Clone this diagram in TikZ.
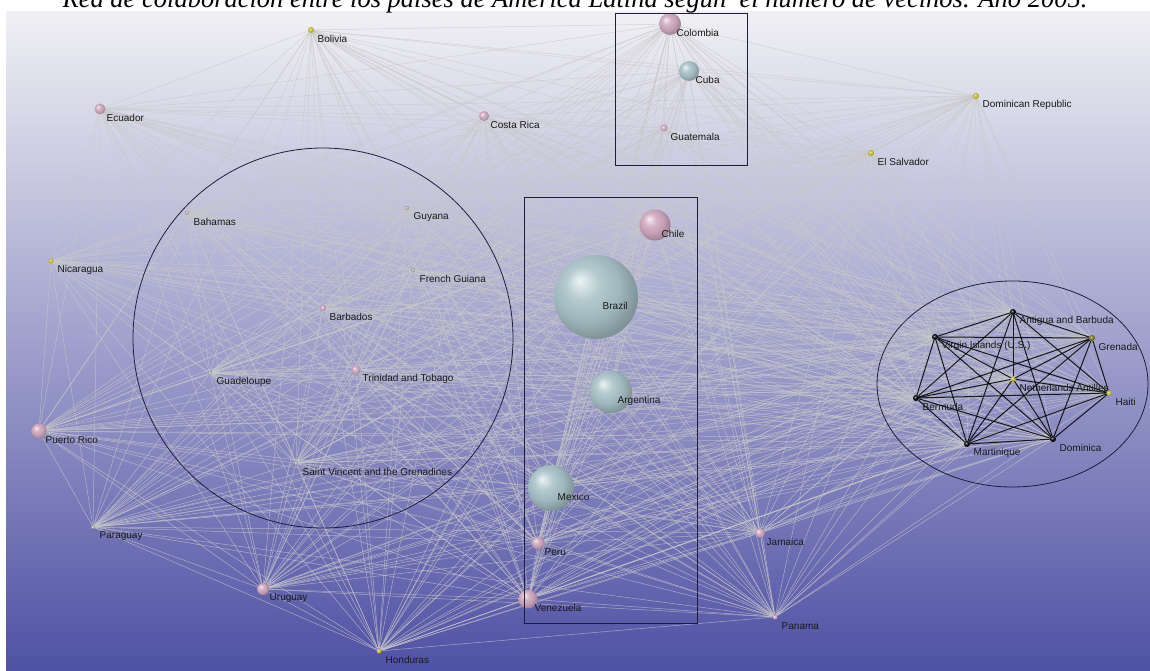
\documentclass[tikz,border=0pt]{standalone}
\usepackage{fontspec}
\setmainfont{Liberation Sans}
\newfontfamily\titlefont{Liberation Serif}
\usetikzlibrary{backgrounds}
\definecolor{pinkball}{HTML}{CDA6BD}
\definecolor{tealball}{HTML}{A6C0C6}
\definecolor{yellowball}{HTML}{C6BC26}
\definecolor{greyball}{HTML}{B0ADA8}
\definecolor{boxline}{HTML}{1E1E3C}
\definecolor{bgtop}{HTML}{F0F0F4}
\definecolor{bgmid}{HTML}{A6A6D6}
\definecolor{bgbot}{HTML}{4F51A4}
\makeatletter
\pgfdeclareradialshading[tikz@ball]{sphere}{\pgfqpoint{-10bp}{10bp}}{%
  color(0bp)=(tikz@ball!20!white); color(10bp)=(tikz@ball!85!white);
  color(20bp)=(tikz@ball!95!black); color(30bp)=(tikz@ball!75!black); color(50bp)=(tikz@ball!55!black)}
\makeatother
\tikzset{ball/.style = {circle,inner sep=0pt,draw=none},
         lab/.style = {anchor=west,inner sep=0pt,text=black!90,font=\fontsize{10}{12}\selectfont},
         web/.style = {draw=gray!42,opacity=0.7,line width=0.5pt},
         tie/.style = {draw=black,opacity=0.85,line width=1pt},
         group/.style = {draw=boxline,line width=0.8pt}}
% id, x, y, diameter, colour, name
\newcommand\country[6]{%
  \node[ball,ball color=#5,shading=sphere,minimum size=#4pt] (#1) at (#2,#3) {};
  \node[lab] (#1-lab) at (#2+6.5,#3+9) {#6};}
\newcommand\mainland{bol,ecu,cri,col,cub,gtm,dom,slv,bhs,guy,guf,brb,glp,tto,vct,nic,pri,pry,ury,hnd,ven,per,mex,arg,bra,chl,jam,pan}
\newcommand\islands{atg,vir,grd,ant,hti,bmu,mtq,dma}

\begin{document}
\begin{tikzpicture}[x=1pt,y=-1pt]
    \useasboundingbox (0,0) rectangle (1150,671);
    \clip (0,0) rectangle (1150,671);
    \node[anchor=base,inner sep=0pt,font=\titlefont\itshape\fontsize{26.5}{28}\selectfont] (title) at (575,8)
        {Red de colaboración entre los países de América Latina según\ \ el número de vecinos. Año 2005.};
    % countries
    \country{bol}{311}{30}{6}{yellowball}{Bolivia}
    \country{ecu}{100}{109}{11}{pinkball}{Ecuador}
    \country{cri}{484}{116}{10}{pinkball}{Costa Rica}
    \country{col}{670}{24}{22}{pinkball}{Colombia}
    \country{cub}{689}{71}{20}{tealball}{Cuba}
    \country{gtm}{664}{128}{7}{pinkball}{Guatemala}
    \country{dom}{976}{96}{6}{yellowball}{Dominican Republic}
    \country{slv}{871}{153}{6}{yellowball}{El Salvador}
    \country{bhs}{187}{213}{4}{greyball}{Bahamas}
    \country{guy}{407}{208}{4}{greyball}{Guyana}
    \country{guf}{413}{270}{4}{greyball}{French Guiana}
    \country{brb}{323}{308}{6}{pinkball}{Barbados}
    \country{glp}{210}{373}{4}{greyball}{Guadeloupe}
    \country{tto}{356}{370}{9}{pinkball}{Trinidad and Tobago}
    \country{vct}{296}{463}{4}{greyball}{Saint Vincent and the Grenadines}
    \country{nic}{51}{261}{5}{yellowball}{Nicaragua}
    \country{pri}{39}{431}{15}{pinkball}{Puerto Rico}
    \country{pry}{93}{527}{4}{greyball}{Paraguay}
    \country{ury}{263}{589}{12}{pinkball}{Uruguay}
    \country{hnd}{379}{651}{5}{yellowball}{Honduras}
    \country{ven}{528}{599}{19}{pinkball}{Venezuela}
    \country{per}{538}{543}{13}{pinkball}{Peru}
    \country{mex}{551}{488}{46}{tealball}{Mexico}
    \country{arg}{611}{392}{42}{tealball}{Argentina}
    \country{bra}{596}{297}{84}{tealball}{Brazil}
    \country{chl}{655}{225}{31}{pinkball}{Chile}
    \country{jam}{760}{533}{10}{pinkball}{Jamaica}
    \country{pan}{775}{617}{5}{pinkball}{Panama}
    % island clique
    \country{atg}{1013}{312}{6}{black}{Antigua and Barbuda}
    \country{vir}{935}{337}{6}{black}{Virgin Islands (U.S.)}
    \country{grd}{1092}{338}{6}{yellowball!60!black}{Grenada}
    \country{ant}{1013}{379}{5}{yellowball}{Netherlands Antilles}
    \country{hti}{1109}{393}{5}{yellowball}{Haiti}
    \country{bmu}{916}{398}{6}{black}{Bermuda}
    \country{mtq}{967}{444}{6}{black}{Martinique}
    \country{dma}{1053}{439}{6}{black}{Dominica}
    % groups
    \draw[group] (615,13) rectangle (747,165);
    \draw[group] (524,197) rectangle (697,623);
    \draw[group] (323,338) circle[radius=190];
    \draw[group] (1012.5,384) ellipse[x radius=135.5,y radius=103];
    \begin{pgfonlayer}{background}
        \shade[top color=bgtop,middle color=bgmid,bottom color=bgbot] (6,12) rectangle (1150,671);
        \foreach \a [count=\i] in \mainland {
            \foreach \b [count=\j] in \mainland {
                \ifnum\j>\i \draw[web] (\a) -- (\b); \fi
            }
        }
        \foreach \a in \islands {
            \foreach \b in \mainland {
                \draw[web] (\a) -- (\b);
            }
        }
        \foreach \a [count=\i] in \islands {
            \foreach \b [count=\j] in \islands {
                \ifnum\j>\i \draw[tie] (\a) -- (\b); \fi
            }
        }
    \end{pgfonlayer}
\end{tikzpicture}
\end{document}
